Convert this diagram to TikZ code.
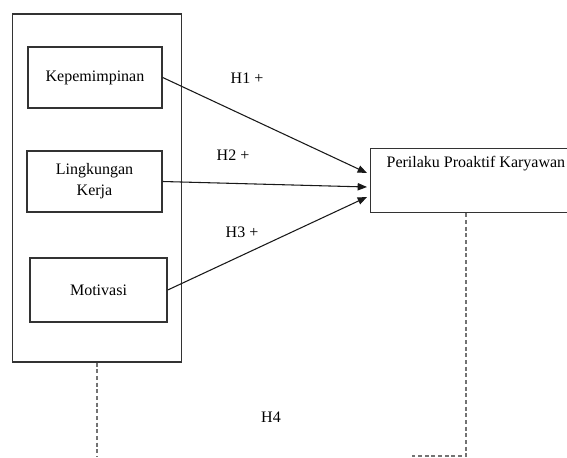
\documentclass[tikz,border=0pt]{standalone}
\usepackage{fontspec}
\setmainfont{Liberation Serif}
\usetikzlibrary{arrows.meta}
\begin{document}
\begin{tikzpicture}[x=0.75pt,y=-0.75pt,
  box/.style={draw=black!80,line width=1.1pt,inner sep=0pt,font=\fontsize{12}{15.8}\selectfont,align=center},
  lab/.style={font=\fontsize{12}{14}\selectfont,inner sep=1pt},
  arr/.style={draw=black!90,line width=0.8pt,-{Triangle[length=7pt,width=5.5pt]}},
  dsh/.style={draw=black!55,line width=0.9pt,dash pattern=on 3pt off 2pt}]
\useasboundingbox (0,0) rectangle (567,457);
\fill[white] (0,0) rectangle (567,457);
\node[box,minimum width=169*0.75pt,minimum height=348*0.75pt] (outer) at (97,188) {};
\node[box,minimum width=134*0.75pt,minimum height=61*0.75pt] (kep) at (95,77.5) {Kepemimpinan};
\node[box,minimum width=135*0.75pt,minimum height=61*0.75pt] (lk) at (94.5,181.5) {Lingkungan\\Kerja};
\node[box,minimum width=137*0.75pt,minimum height=64*0.75pt] (mot) at (98.5,290) {Motivasi};
\node[box,minimum width=240*0.75pt,minimum height=64*0.75pt,anchor=north west] (pp) at (370,148) {};
\node[lab,anchor=west] (ppt) at (385,164) {Perilaku Proaktif Karyawan};
\draw[arr] (kep.east) -- (367,173);
\draw[arr] (lk.east) -- (367,187);
\draw[arr] (mot.east) -- (367,197);
\node[lab] (h1) at (247,78) {H1 +};
\node[lab] (h2) at (233,155) {H2 +};
\node[lab] (h3) at (242,232) {H3 +};
\node[lab] (h4) at (271,417) {H4};
\coordinate (lb) at (97,457);
\coordinate (rb) at (466,456);
\coordinate (re) at (412,456);
\draw[dsh] (outer.south) -- (lb);
\draw[dsh] (pp.south west -| rb) -- (rb) -- (re);
\end{tikzpicture}
\end{document}
